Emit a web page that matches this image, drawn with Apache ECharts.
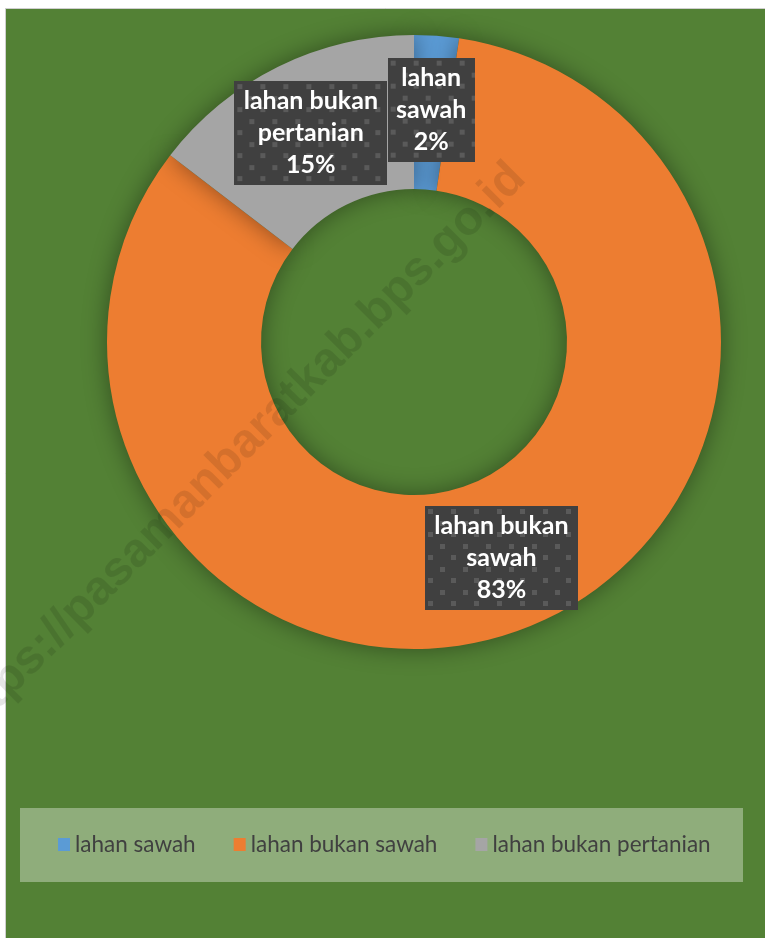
<!DOCTYPE html>
<html>
<head>
<meta charset="utf-8">
<script src="https://cdn.jsdelivr.net/npm/echarts@6/dist/echarts.min.js"></script>
<style>
  html, body { margin: 0; padding: 0; background: #fff; }
  #chart { width: 765px; height: 938px; }
</style>
</head>
<body>
<div id="chart"></div>
<script>
// luas lahan (persen)
const categories = ['lahan sawah', 'lahan bukan sawah', 'lahan bukan pertanian'];
const values = [2.35, 83.05, 14.6];
const labelText = ['lahan\nsawah', 'lahan bukan\nsawah', 'lahan bukan\npertanian'];
const colors = ['#5B9BD5', '#ED7D31', '#A5A5A5'];
const watermark = 'https://pasamanbaratkab.bps.go.id';

// dark box with little dots, like the excel label fill
function dotBox(w, h) {
  const c = document.createElement('canvas');
  c.width = w; c.height = h;
  const g = c.getContext('2d');
  g.fillStyle = '#404040';
  g.fillRect(0, 0, w, h);
  g.fillStyle = '#5a5a5a';
  const step = 11.5;
  for (let r = 0; r * step < h + step; r++) {
    for (let k = 0; k * step < w + step; k++) {
      if ((r + k) % 2) continue;
      g.fillRect(Math.round(k * step + 3), Math.round(r * step + 3), 5, 5);
    }
  }
  return c;
}

const boxW = [71, 137, 137];

const myChart = echarts.init(document.getElementById('chart'));
myChart.setOption({
  backgroundColor: '#ffffff',
  animation: false,
  color: colors,
  graphic: [
    {type: 'rect', z: 0, shape: {x: 5.5, y: 8.5, width: 770, height: 940},
      style: {fill: '#538135', stroke: '#cfcfcf', lineWidth: 1}},
    {type: 'rect', z: 1, shape: {x: 20, y: 808, width: 723, height: 74},
      style: {fill: 'rgba(255,255,255,0.35)'}},
    {type: 'text', z: 100, x: 237, y: 452, rotation: Math.PI / 4,
      style: {text: watermark, fill: 'rgba(0,0,0,0.1)', font: 'bold 48px "Liberation Sans"',
        align: 'center', verticalAlign: 'middle'}}
  ],
  legend: {
    left: 58,
    top: 833,
    padding: 0,
    itemWidth: 12,
    itemHeight: 13,
    itemGap: 38,
    icon: 'rect',
    textStyle: {color: '#404040', fontSize: 22.5, fontFamily: 'Lato'},
    data: categories
  },
  series: [{
    type: 'pie',
    center: [414, 342],
    radius: [153, 307],
    startAngle: 90,
    percentPrecision: 0,
    itemStyle: {shadowBlur: 24, shadowColor: 'rgba(0,0,0,0.4)'},
    emphasis: {disabled: true},
    label: {
      position: 'inside',
      color: '#fff',
      fontFamily: 'Lato',
      fontWeight: 'bold',
      fontSize: 25,
      lineHeight: 32,
      height: 96,
      overflow: 'none',
      align: 'center',
      padding: [4, 8],
      shadowBlur: 8,
      shadowOffsetX: 3,
      shadowOffsetY: 3,
      shadowColor: 'rgba(0,0,0,0.45)'
    },
    data: categories.map((name, i) => ({
      name: name,
      value: values[i],
      label: {
        width: boxW[i],
        backgroundColor: {image: dotBox(boxW[i] + 16, 104)},
        formatter: p => labelText[i] + '\n' + p.percent + '%'
      }
    }))
  }]
});
</script>
</body>
</html>
